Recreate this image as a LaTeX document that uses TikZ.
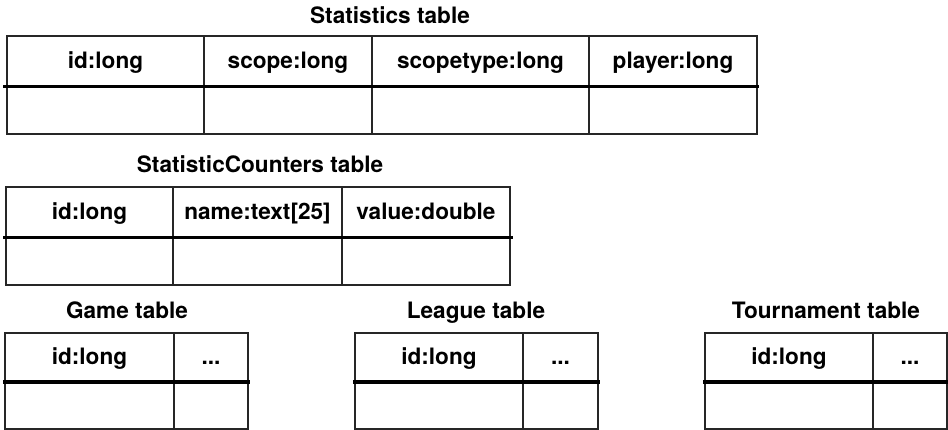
\documentclass[tikz,border=0pt]{standalone}
\usepackage{fontspec}
\setmainfont{TeX Gyre Heros}
\newcommand\tcell[6]{\node[cell, minimum width={(#3)-(#2)}, minimum height={(#5)-(#4)}] (#1) at ({((#2)+(#3))/2},{((#4)+(#5))/2}) {#6};}
\begin{document}
\begin{tikzpicture}[x=1pt,y=-1pt,
  cell/.style={draw=black!85, line width=1.4pt, inner sep=0pt, text height=16pt, text depth=0pt, font=\fontsize{22.6}{26}\selectfont\bfseries},
  ttl/.style={inner sep=0pt, anchor=base, font=\fontsize{22.6}{26}\selectfont\bfseries},
  sepline/.style={line width=3.6pt, black}]
\useasboundingbox (0,0) rectangle (948,430);
\fill[white] (0,0) rectangle (948,430);
% Statistics table
\node[ttl] (t1) at (390,24) {Statistics table};
\tcell{s1}{7}{204}{36}{86}{id:long}
\tcell{s2}{204}{372}{36}{86}{scope:long}
\tcell{s3}{372}{589}{36}{86}{scopetype:long}
\tcell{s4}{589}{757}{36}{86}{player:long}
\tcell{s1b}{7}{204}{86}{134}{}
\tcell{s2b}{204}{372}{86}{134}{}
\tcell{s3b}{372}{589}{86}{134}{}
\tcell{s4b}{589}{757}{86}{134}{}
\draw[sepline] ([xshift=-3pt]s1.south west) -- ([xshift=1pt]s4.south east);
% StatisticCounters table
\node[ttl] (t2) at (260,173) {StatisticCounters table};
\tcell{c1}{6}{173}{187}{237}{id:long}
\tcell{c2}{173}{342}{187}{237}{name:text[25]}
\tcell{c3}{342}{510}{187}{237}{value:double}
\tcell{c1b}{6}{173}{237}{285}{}
\tcell{c2b}{173}{342}{237}{285}{}
\tcell{c3b}{342}{510}{237}{285}{}
\draw[sepline] ([xshift=-2pt]c1.south west) -- ([xshift=2pt]c3.south east);
% Game table
\node[ttl] (t3) at (127,319) {Game table};
\tcell{g1}{5}{174}{333}{381}{id:long}
\tcell{g2}{174}{248}{333}{381}{...}
\tcell{g1b}{5}{174}{381}{429}{}
\tcell{g2b}{174}{248}{381}{429}{}
\draw[sepline] ([xshift=-1pt]g1.south west) -- ([xshift=1pt]g2.south east);
% League table
\node[ttl] (t4) at (476,319) {League table};
\tcell{l1}{355}{523}{333}{381}{id:long}
\tcell{l2}{523}{598}{333}{381}{...}
\tcell{l1b}{355}{523}{381}{429}{}
\tcell{l2b}{523}{598}{381}{429}{}
\draw[sepline] ([xshift=-1pt]l1.south west) -- ([xshift=1pt]l2.south east);
% Tournament table
\node[ttl] (t5) at (826,319) {Tournament table};
\tcell{u1}{705}{873}{333}{381}{id:long}
\tcell{u2}{873}{947}{333}{381}{...}
\tcell{u1b}{705}{873}{381}{429}{}
\tcell{u2b}{873}{947}{381}{429}{}
\draw[sepline] ([xshift=-1pt]u1.south west) -- ([xshift=1pt]u2.south east);
\end{tikzpicture}
\end{document}
